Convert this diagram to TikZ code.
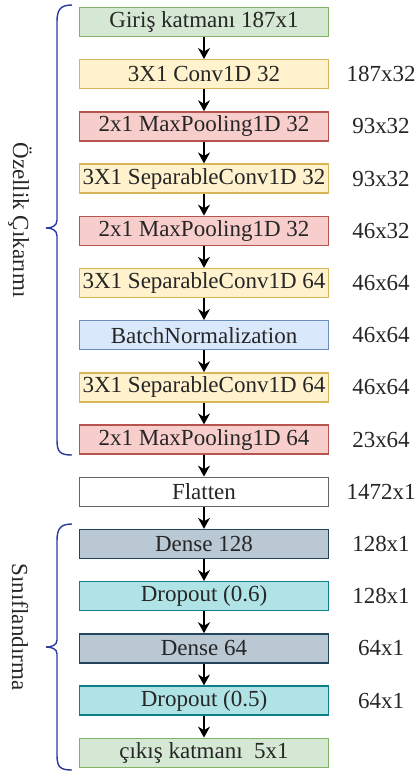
\documentclass[tikz,border=0pt]{standalone}
\usepackage{fontspec}
\setmainfont{Liberation Serif}
\usetikzlibrary{positioning,arrows.meta}

\definecolor{grnfill}{HTML}{D5E8D4}\definecolor{grnline}{HTML}{82B366}
\definecolor{ylwfill}{HTML}{FFF2CC}\definecolor{ylwline}{HTML}{D6B656}
\definecolor{redfill}{HTML}{F8CECC}\definecolor{redline}{HTML}{B85450}
\definecolor{blufill}{HTML}{DAE8FC}\definecolor{bluline}{HTML}{6C8EBF}
\definecolor{gryfill}{HTML}{BAC8D3}\definecolor{gryline}{HTML}{23445D}
\definecolor{cynfill}{HTML}{B0E3E6}\definecolor{cynline}{HTML}{0E8088}
\definecolor{brace}{RGB}{40,60,160}

\begin{document}
\begin{tikzpicture}[x=0.5pt, y=-0.5pt, node distance=26.1pt,
    every node/.style={font=\fontsize{11.5}{13}\selectfont, text=black!85},
    box/.style={draw, line width=0.7pt, minimum width=124.5pt, minimum height=14.5pt, inner sep=0pt},
    inbox/.style={box, fill=grnfill, draw=grnline},
    conv/.style={box, fill=ylwfill, draw=ylwline},
    pool/.style={box, fill=redfill, draw=redline},
    norm/.style={box, fill=blufill, draw=bluline},
    dense/.style={box, fill=gryfill, draw=gryline},
    drop/.style={box, fill=cynfill, draw=cynline},
    flat/.style={box, fill=white, draw=black!60},
    arr/.style={-{Stealth[length=5.5pt, width=6pt]}, line width=0.8pt},
    size/.style={node distance=88.5pt}]
        \useasboundingbox (0,0) rectangle (415,773);

        % Define Nodes
        \node (in) [inbox] at (204,22) {Giriş katmanı 187x1};
        \node (c1) [conv, below of=in] {3X1 Conv1D 32};
        \node (p1) [pool, below of=c1] {2x1 MaxPooling1D 32};
        \node (s1) [conv, below of=p1] {3X1 SeparableConv1D 32};
        \node (p2) [pool, below of=s1] {2x1 MaxPooling1D 32};
        \node (s2) [conv, below of=p2] {3X1 SeparableConv1D 64};
        \node (bn) [norm, below of=s2] {BatchNormalization};
        \node (s3) [conv, below of=bn] {3X1 SeparableConv1D 64};
        \node (p3) [pool, below of=s3] {2x1 MaxPooling1D 64};
        \node (fl) [flat, below of=p3] {Flatten};
        \node (d1) [dense, below of=fl] {Dense 128};
        \node (dr1) [drop, below of=d1] {Dropout (0.6)};
        \node (d2) [dense, below of=dr1] {Dense 64};
        \node (dr2) [drop, below of=d2] {Dropout (0.5)};
        \node (out) [inbox, below of=dr2] {çıkış katmanı\ \ 5x1};

        % Output sizes
        \node (c1z) [size, right of=c1] {187x32};
        \node (p1z) [size, right of=p1] {93x32};
        \node (s1z) [size, right of=s1] {93x32};
        \node (p2z) [size, right of=p2] {46x32};
        \node (s2z) [size, right of=s2] {46x64};
        \node (bnz) [size, right of=bn] {46x64};
        \node (s3z) [size, right of=s3] {46x64};
        \node (p3z) [size, right of=p3] {23x64};
        \node (flz) [size, right of=fl] {1472x1};
        \node (d1z) [size, right of=d1] {128x1};
        \node (dr1z) [size, right of=dr1] {128x1};
        \node (d2z) [size, right of=d2] {64x1};
        \node (dr2z) [size, right of=dr2] {64x1};

        % Draw Edges
        \draw[arr] (in) -- (c1);
        \draw[arr] (c1) -- (p1);
        \draw[arr] (p1) -- (s1);
        \draw[arr] (s1) -- (p2);
        \draw[arr] (p2) -- (s2);
        \draw[arr] (s2) -- (bn);
        \draw[arr] (bn) -- (s3);
        \draw[arr] (s3) -- (p3);
        \draw[arr] (p3) -- (fl);
        \draw[arr] (fl) -- (d1);
        \draw[arr] (d1) -- (dr1);
        \draw[arr] (dr1) -- (d2);
        \draw[arr] (d2) -- (dr2);
        \draw[arr] (dr2) -- (out);

        % Braces
        \draw[brace, line width=0.7pt] (72,5) .. controls (60,5) and (57,10) .. (57,22)
            -- (57,220) .. controls (57,226) and (52,228) .. (46,228)
            .. controls (52,228) and (57,230) .. (57,236)
            -- (57,440) .. controls (57,452) and (60,455) .. (72,455);
        \draw[brace, line width=0.7pt] (72,524) .. controls (60,524) and (57,529) .. (57,541)
            -- (57,640) .. controls (57,645) and (52,647) .. (46,647)
            .. controls (52,647) and (57,649) .. (57,654)
            -- (57,755) .. controls (57,767) and (60,770) .. (72,770);
        \node (fe) [rotate=-90] at (20,220) {Özellik Çıkarımı};
        \node (cls) [rotate=-90] at (20,627) {Sınıflandırma};
\end{tikzpicture}
\end{document}
